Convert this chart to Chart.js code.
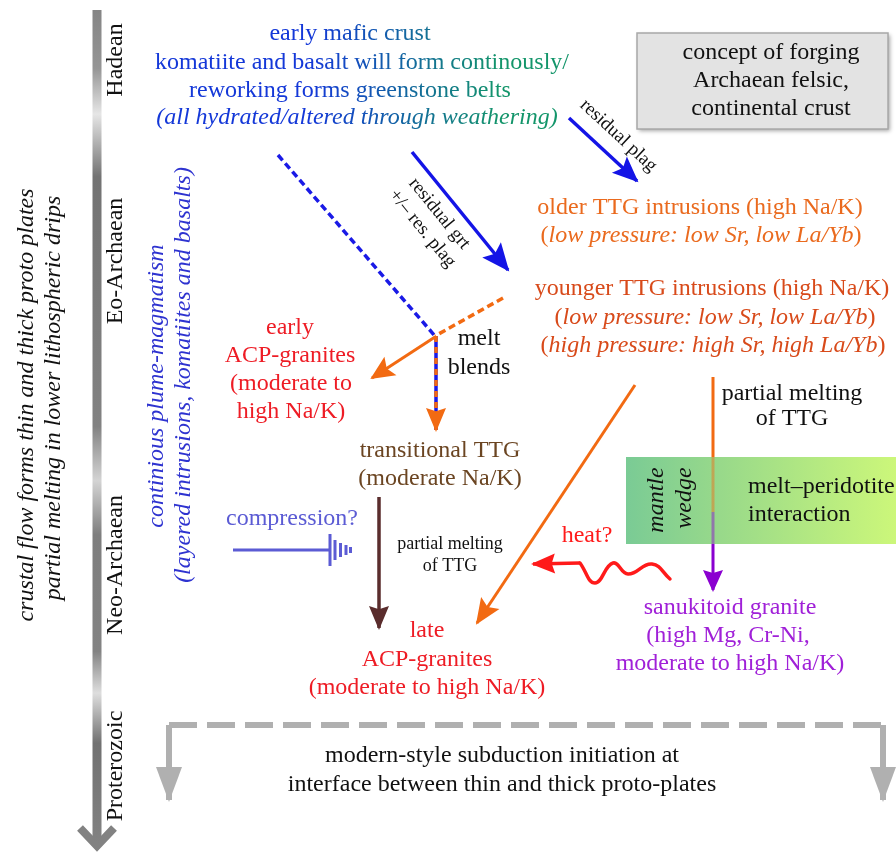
<!DOCTYPE html>
<html>
<head>
<meta charset="utf-8">
<script src="https://cdn.jsdelivr.net/npm/chart.js@4.4.0/dist/chart.umd.min.js"></script>
<style>
html,body{margin:0;padding:0;background:#fff;}
#wrap{width:896px;height:852px;}
</style>
</head>
<body>
<div id="wrap"><canvas id="c"></canvas></div>
<script>
// diagram space: x 0..896, y 0..852 (y grows downwards)
const eraNames=["Hadean","Eo-Archaean","Neo-Archaean","Proterozoic"];
const eraCentres=[60,261,565,766];

const timeAxis=[{x:97,y:10},{x:97,y:843}];
const timeHead=[{x:80,y:828},{x:97,y:846},{x:114,y:828}];
const residualPlag=[{x:569,y:118},{x:637,y:181}];
const residualGrt=[{x:412,y:152},{x:508,y:270}];
const blueMelt=[{x:278,y:155},{x:435,y:336}];
const orangeMelt=[{x:503,y:298},{x:435,y:336}];
const toEarlyACP=[{x:435,y:337},{x:372,y:378}];
const toTransitional=[{x:436,y:336},{x:436,y:430}];
const toLateACP=[{x:379,y:497},{x:379,y:628}];
const ttgToLate=[{x:635,y:385},{x:477,y:623}];
const ttgMeltOrange=[{x:713,y:377},{x:713,y:512}];
const ttgMeltPurple=[{x:713,y:512},{x:713,y:590}];
const heatWave=[{x:670,y:579},{x:652,y:564},{x:628,y:574},{x:613,y:563},{x:595,y:583},{x:580,y:563}];
const heatShaft=[{x:580,y:563},{x:533,y:564}];
const compressionShaft=[{x:233,y:550},{x:330,y:550}];
const compressionBars=[[330,16],[335,10],[340.5,7],[346,5],[350.5,3]];
const subductionTop=[{x:169,y:725},{x:883,y:725}];
const subductionLeft=[{x:169,y:725},{x:169,y:800}];
const subductionRight=[{x:883,y:725},{x:883,y:800}];

const SERIF="'Liberation Serif','Times New Roman',serif";
const BLACK='#111',RED='#ee1c25',ORANGE='#ea6a1e',YOUNG='#d84a1a',BROWN='#6b4522',
      LAV='#5b5bd4',PURPLE='#a020d8',LBLUE='#2e33d0',HEAT='#ff1a1a';

// text blocks: x, y (centre), text or runs, size, colour, rotation, align
const labels=[
  {x:350,y:33,t:"early mafic crust",c:'grad'},
  {x:362,y:62,t:"komatiite and basalt will form continously/",c:'grad'},
  {x:350,y:90,t:"reworking forms greenstone belts",c:'grad'},
  {x:357,y:117,t:"(all hydrated/altered through weathering)",c:'grad',it:1},
  {x:771,y:52,t:"concept of forging",c:BLACK},
  {x:771,y:80,t:"Archaean felsic,",c:BLACK},
  {x:771,y:108,t:"continental crust",c:BLACK},
  {x:619,y:135,t:"residual plag",c:BLACK,s:19,r:42.8},
  {x:440,y:213,t:"residual grt",c:BLACK,s:19,r:50.9},
  {x:423,y:228,t:"+/– res. plag",c:BLACK,s:19,r:50.9},
  {x:700,y:207,t:"older TTG intrusions (high Na/K)",c:ORANGE},
  {x:701,y:235,runs:[["("],["low pressure: low Sr, low La/Yb",1],[")"]],c:ORANGE},
  {x:712,y:288,t:"younger TTG intrusions (high Na/K)",c:YOUNG},
  {x:715,y:317,runs:[["("],["low pressure: low Sr, low La/Yb",1],[")"]],c:YOUNG},
  {x:713,y:345,runs:[["("],["high pressure: high Sr, high La/Yb",1],[")"]],c:YOUNG},
  {x:290,y:327,t:"early",c:RED},
  {x:290,y:355,t:"ACP-granites",c:RED},
  {x:291,y:383,t:"(moderate to",c:RED},
  {x:291,y:411,t:"high Na/K)",c:RED},
  {x:479,y:338,t:"melt",c:BLACK},
  {x:479,y:367,t:"blends",c:BLACK},
  {x:440,y:450,t:"transitional TTG",c:BROWN},
  {x:440,y:478,t:"(moderate Na/K)",c:BROWN},
  {x:450,y:543,t:"partial melting",c:BLACK,s:18},
  {x:450,y:565,t:"of TTG",c:BLACK,s:18},
  {x:792,y:393,t:"partial melting",c:BLACK},
  {x:792,y:418,t:"of TTG",c:BLACK},
  {x:292,y:518,t:"compression?",c:LAV},
  {x:587,y:535,t:"heat?",c:HEAT},
  {x:656,y:500,t:"mantle",c:BLACK,it:1,r:-90},
  {x:684,y:498,t:"wedge",c:BLACK,it:1,r:-90},
  {x:748,y:486,t:"melt–peridotite",c:BLACK,a:'left'},
  {x:748,y:514,t:"interaction",c:BLACK,a:'left'},
  {x:730,y:607,t:"sanukitoid granite",c:PURPLE},
  {x:728,y:635,t:"(high Mg, Cr-Ni,",c:PURPLE},
  {x:730,y:663,t:"moderate to high Na/K)",c:PURPLE},
  {x:427,y:630,t:"late",c:RED},
  {x:427,y:659,t:"ACP-granites",c:RED},
  {x:427,y:687,t:"(moderate to high Na/K)",c:RED},
  {x:502,y:755,t:"modern-style subduction initiation at",c:BLACK},
  {x:502,y:784,t:"interface between thin and thick proto-plates",c:BLACK},
  {x:26,y:405,t:"crustal flow forms thin and thick proto plates",c:BLACK,it:1,r:-90},
  {x:53,y:398,t:"partial melting in lower lithospheric drips",c:BLACK,it:1,r:-90},
  {x:156,y:386,t:"continious plume-magmatism",c:LBLUE,it:1,r:-90},
  {x:183,y:375,t:"(layered intrusions, komatiites and basalts)",c:LBLUE,it:1,r:-90}
];
eraNames.forEach((n,i)=>labels.push({x:115,y:eraCentres[i],t:n,c:BLACK,r:-90}));

function line(pts,color,width,extra){
  return Object.assign({data:pts,showLine:true,pointRadius:0,pointHoverRadius:0,
    borderColor:color,backgroundColor:color,borderWidth:width,fill:false,tension:0,
    borderCapStyle:'butt'},extra||{});
}

function axisGradient(ctx){
  const chart=ctx.chart;
  if(!chart.chartArea) return '#888';
  const ys=chart.scales.y;
  const g=chart.ctx.createLinearGradient(0,ys.getPixelForValue(10),0,ys.getPixelForValue(843));
  [[0,'#858585'],[0.07,'#959595'],[0.125,'#e6e6e6'],[0.2,'#737373'],[0.5,'#828282'],
   [0.565,'#d4d4d4'],[0.63,'#7e7e7e'],[0.77,'#838383'],[0.82,'#dedede'],[0.88,'#717171'],[1,'#828282']]
   .forEach(s=>g.addColorStop(s[0],s[1]));
  return g;
}

const datasets=[
  line(timeAxis,axisGradient,9),
  line(timeHead,'#828282',8,{borderJoinStyle:'miter',borderCapStyle:'butt'}),
  line(residualPlag,'#1414e6',3.5,{head:[24,11,0.8]}),
  line(residualGrt,'#1414e6',3.5,{head:[26,12,0.8]}),
  line(orangeMelt,'#f26a12',3.5,{borderDash:[7,4]}),
  line(blueMelt,'#1a1ae6',3.5,{borderDash:[7,4]}),
  line(toEarlyACP,'#f26a12',3,{head:[22,11,0.8]}),
  line(toTransitional,'#f26a12',3.5,{borderDash:[6,5],head:[22,10,0.85]}),
  line(toTransitional,'#1a1ae6',3.5),
  line(toLateACP,'#5a2d2d',3.5,{head:[22,10,0.85]}),
  line(ttgToLate,'#f26a12',3,{head:[24,11,0.8]}),
  line(ttgMeltOrange,'#f26a12',3),
  line(ttgMeltPurple,'#8a00d0',3,{head:[20,10,0.85]}),
  line(heatWave,HEAT,3.5,{tension:0.45,borderCapStyle:'round'}),
  line(heatShaft,HEAT,3.5,{head:[22,10,0.85]}),
  line(compressionShaft,LAV,3),
  line(subductionTop,'#b0b0b0',6,{borderDash:[28,10]}),
  line(subductionLeft,'#b0b0b0',6,{head:[33,13,1]}),
  line(subductionRight,'#b0b0b0',6,{head:[33,13,1]})
];
compressionBars.forEach(b=>datasets.push(line([{x:b[0],y:550-b[1]},{x:b[0],y:550+b[1]}],LAV,3)));

function px(chart,x){return chart.scales.x.getPixelForValue(x);}
function py(chart,y){return chart.scales.y.getPixelForValue(y);}

function greenBox(chart,alpha){
  const c=chart.ctx,x0=px(chart,626),x1=px(chart,896),y0=py(chart,457),y1=py(chart,544);
  const g=c.createLinearGradient(x0,0,x1,0);
  g.addColorStop(0,'#7acb95');g.addColorStop(0.35,'#98d98a');g.addColorStop(1,'#ccf77a');
  c.save();c.globalAlpha=alpha;c.fillStyle=g;c.fillRect(x0,y0,x1-x0,y1-y0);c.restore();
}

const backdrop={
  id:'backdrop',
  beforeDatasetsDraw(chart){
    const c=chart.ctx;
    const x0=px(chart,637),x1=px(chart,888),y0=py(chart,33),y1=py(chart,129);
    c.save();
    c.shadowColor='rgba(0,0,0,0.35)';c.shadowOffsetX=2;c.shadowOffsetY=2;c.shadowBlur=4;
    c.fillStyle='#e3e3e3';c.fillRect(x0,y0,x1-x0,y1-y0);
    c.restore();
    c.save();c.strokeStyle='#a8a8a8';c.lineWidth=1.5;c.strokeRect(x0,y0,x1-x0,y1-y0);c.restore();
    greenBox(chart,1);
  },
  afterDatasetsDraw(chart){
    greenBox(chart,0.55);
    const c=chart.ctx;
    chart.data.datasets.forEach((ds,i)=>{
      if(!ds.head) return;
      const pts=chart.getDatasetMeta(i).data;
      const a=pts[pts.length-2],b=pts[pts.length-1];
      const ang=Math.atan2(b.y-a.y,b.x-a.x);
      const [len,half,notch]=ds.head;
      c.save();c.translate(b.x,b.y);c.rotate(ang);
      c.fillStyle=ds.borderColor;
      c.beginPath();c.moveTo(2,0);c.lineTo(-len,-half);c.lineTo(-len*notch,0);c.lineTo(-len,half);c.closePath();
      c.fill();c.restore();
    });
  }
};

function drawLabel(chart,l){
  const c=chart.ctx,size=l.s||24;
  const runs=l.runs||[[l.t,l.it]];
  const fontOf=it=>(it?'italic ':'')+size+'px '+SERIF;
  let total=0;
  runs.forEach(r=>{c.font=fontOf(r[1]);total+=c.measureText(r[0]).width;});
  c.save();
  c.translate(px(chart,l.x),py(chart,l.y));
  if(l.r) c.rotate(l.r*Math.PI/180);
  c.textBaseline='middle';c.textAlign='left';
  if(l.c==='grad'){
    const ox=px(chart,l.x);
    const g=c.createLinearGradient(px(chart,310)-ox,0,px(chart,500)-ox,0);
    g.addColorStop(0,'#1438d8');g.addColorStop(1,'#13956a');
    c.fillStyle=g;
  } else c.fillStyle=l.c;
  let x=l.a==='left'?0:-total/2;
  runs.forEach(r=>{c.font=fontOf(r[1]);c.fillText(r[0],x,1);x+=c.measureText(r[0]).width;});
  c.restore();
}

const texts={id:'texts',afterDraw(chart){labels.forEach(l=>drawLabel(chart,l));}};

new Chart(document.getElementById('c'),{
  type:'scatter',
  data:{datasets:datasets},
  options:{
    responsive:true,maintainAspectRatio:false,animation:false,events:[],
    layout:{padding:0},
    plugins:{legend:{display:false},tooltip:{enabled:false}},
    scales:{
      x:{type:'linear',min:0,max:896,display:false},
      y:{type:'linear',min:0,max:852,reverse:true,display:false}
    }
  },
  plugins:[backdrop,texts]
});
</script>
</body>
</html>
